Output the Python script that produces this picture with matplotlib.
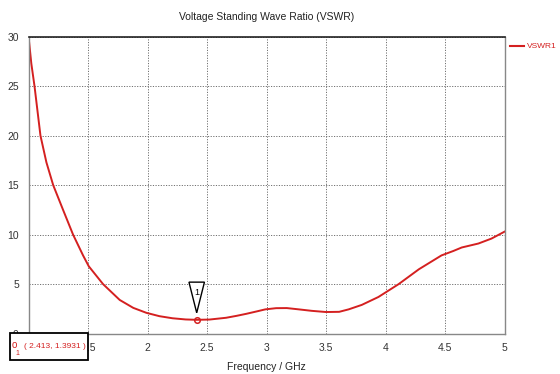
import numpy as np
import matplotlib
matplotlib.use('Agg')
import matplotlib.pyplot as plt
from matplotlib.patches import Rectangle
from matplotlib.lines import Line2D

# curva VSWR
freq = [1.0, 1.023, 1.05, 1.10, 1.15, 1.207, 1.29, 1.374, 1.458, 1.506, 1.626,
        1.766, 1.88, 1.99, 2.10, 2.21, 2.32, 2.413, 2.52, 2.66, 2.75, 2.83,
        2.92, 2.99, 3.08, 3.17, 3.27, 3.38, 3.50, 3.61, 3.69, 3.80, 3.94,
        4.11, 4.28, 4.47, 4.57, 4.64, 4.78, 4.89, 5.0]
vswr = [30.0, 27.3, 25.0, 20.0, 17.3, 15.0, 12.5, 10.0, 7.9, 6.8, 5.0,
        3.4, 2.6, 2.1, 1.76, 1.55, 1.43, 1.3931, 1.42, 1.6, 1.8, 2.0,
        2.25, 2.45, 2.57, 2.58, 2.45, 2.3, 2.18, 2.2, 2.45, 2.9, 3.7,
        5.0, 6.5, 7.9, 8.35, 8.7, 9.1, 9.6, 10.3]
xticks = [1.5, 2, 2.5, 3, 3.5, 4, 4.5, 5]
xtick_labels = ['1.5', '2', '2.5', '3', '3.5', '4', '4.5', '5']
yticks = [0, 5, 10, 15, 20, 25, 30]
mark_f, mark_v = 2.413, 1.3931

plt.rcParams['font.family'] = ['Liberation Sans', 'DejaVu Sans']
red = '#d42020'

fig = plt.figure(figsize=(5.6, 3.74), dpi=100)
ax = fig.add_axes([0.051, 0.108, 0.850, 0.794])

ax.plot(freq, vswr, color=red, lw=1.4, solid_joinstyle='round')
ax.plot([mark_f], [mark_v], 'o', ms=4, mfc='none', mec=red, mew=1.1)

ax.set_xlim(1, 5)
ax.set_ylim(0, 30)
ax.set_xticks(xticks)
ax.set_xticklabels(xtick_labels)
ax.set_yticks(yticks)
ax.tick_params(length=0, labelsize=7.5, colors='#333333', pad=7)
ax.grid(True, color='#707070', ls=(0, (1.2, 1.5)), lw=0.7)
for s in ['left', 'bottom', 'right']:
    ax.spines[s].set_color('#888888')
    ax.spines[s].set_linewidth(1.0)
ax.spines['top'].set_color('#222222')
ax.spines['top'].set_linewidth(1.2)

ax.set_title('Voltage Standing Wave Ratio (VSWR)', fontsize=7.5, color='#222222', pad=12)
ax.set_xlabel('Frequency / GHz', fontsize=7.5, color='#222222', labelpad=6)

# marcador triangular
tri_x = [mark_f - 0.065, mark_f + 0.065, mark_f, mark_f - 0.065]
tri_y = [5.2, 5.2, 2.1, 5.2]
ax.fill(tri_x, tri_y, facecolor='white', edgecolor='black', lw=1.0, zorder=5, clip_on=False)
ax.text(mark_f, 4.2, '1', ha='center', va='center', fontsize=6.5, zorder=6)

# legenda fora do eixo
fig.add_artist(Line2D([0.911, 0.936], [0.877, 0.877], transform=fig.transFigure,
                      color=red, lw=1.5))
fig.text(0.941, 0.877, 'VSWR1', color=red, fontsize=6, va='center', ha='left')

# caixa do valor do marcador
box = Rectangle((0.018, 0.037), 0.139, 0.073, transform=fig.transFigure,
                facecolor='white', edgecolor='black', lw=1.3, zorder=5)
fig.add_artist(box)
fig.text(0.021, 0.078, 'o', color=red, fontsize=7, va='center', ha='left', zorder=6)
fig.text(0.027, 0.056, '1', color=red, fontsize=5, va='center', ha='left', zorder=6)
fig.text(0.042, 0.074, '( %.3f, %.4f )' % (mark_f, mark_v), color=red, fontsize=6,
         va='center', ha='left', zorder=6)

fig.savefig('out.png', dpi=100)
